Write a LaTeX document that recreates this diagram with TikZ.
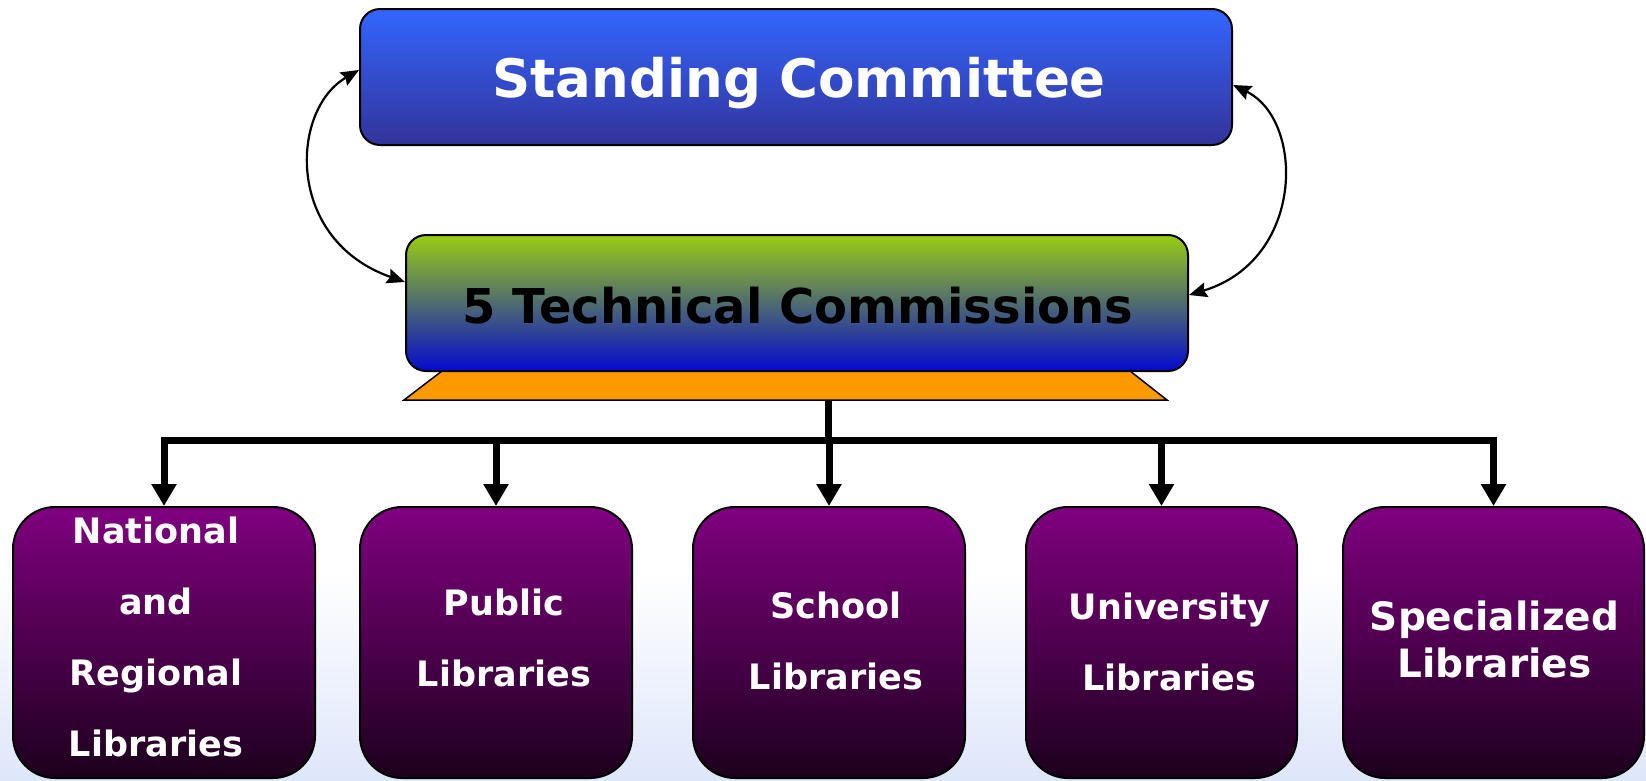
\documentclass[tikz,border=0pt]{standalone}
\usepackage{fontspec}
\setmainfont{DejaVu Sans}
\usetikzlibrary{arrows.meta,calc}
\definecolor{scTop}{RGB}{51,102,255}
\definecolor{scBot}{RGB}{51,51,153}
\definecolor{tcTop}{RGB}{153,204,20}
\definecolor{tcMid}{RGB}{112,150,160}
\definecolor{tcBot}{RGB}{5,10,205}
\definecolor{puTop}{RGB}{128,0,128}
\definecolor{puBot}{RGB}{28,0,28}
\definecolor{orangeFill}{RGB}{255,153,0}
\definecolor{bgBlue}{RGB}{222,230,250}
\begin{document}
\begin{tikzpicture}[x=1pt,y=-1pt,
  scbox/.style={draw=black,line width=2pt,rounded corners=20pt,minimum width=872pt,minimum height=136pt,
    top color=scTop,bottom color=scBot,inner sep=0pt},
  tcbox/.style={draw=black,line width=2pt,rounded corners=20pt,minimum width=782pt,minimum height=136pt,
    top color=tcTop,middle color=tcMid,bottom color=tcBot,inner sep=0pt},
  sctext/.style={inner sep=0pt,text=white,font=\fontsize{53}{60}\selectfont\bfseries},
  tctext/.style={inner sep=0pt,text=black,font=\fontsize{48}{56}\selectfont\bfseries},
  libbox/.style={draw=black,line width=2pt,rounded corners=42pt,minimum height=271pt,
    top color=puTop,bottom color=puBot,inner sep=0pt},
  libtext/.style={inner sep=0pt,text=white,align=center,font=\fontsize{35}{71}\selectfont\bfseries},
  treeline/.style={line width=7pt,black},
  treearrow/.style={line width=7pt,black,-{Triangle[length=22pt,width=24pt]}},
  curvearrow/.style={line width=2.2pt,black,{Stealth[length=18pt,width=15pt,inset=2.5pt]}-{Stealth[length=18pt,width=15pt,inset=2.5pt]}}
]
\useasboundingbox (0,0) rectangle (1646,780);
\fill[white] (0,0) rectangle (1646,780);
\fill[top color=white,bottom color=bgBlue] (0,570) rectangle (1646,780);

% orange base
\draw[fill=orangeFill,line width=1.5pt] (442,371) -- (1130,371) -- (1167,400) -- (404,400) -- cycle;

\node[scbox] (sc) at (796,77) {};
\node[sctext] (sct) at ($(sc.center)+(3,6)$) {Standing Committee};
\node[tcbox] (tc) at (797,303) {};
\node[tctext] (tct) at ($(tc.center)+(1,3)$) {5 Technical Commissions};

\node[libbox,minimum width=302pt] (b1) at (164,642.5) {};
\node[libbox,minimum width=272pt] (b2) at (496,642.5) {};
\node[libbox,minimum width=272pt] (b3) at (829,642.5) {};
\node[libbox,minimum width=271pt] (b4) at (1161.5,642.5) {};
\node[libbox,minimum width=301pt] (b5) at (1493.5,642.5) {};

\node[libtext] (t1) at ($(b1.center)+(-8,-6)$) {National\\and\\Regional\\Libraries};
\node[libtext] (t2) at ($(b2.center)+(8,-5)$) {Public\\Libraries};
\node[libtext] (t3) at ($(b3.center)+(7,-2)$) {School\\Libraries};
\node[libtext] (t4) at ($(b4.center)+(8,-1)$) {University\\Libraries};
\node[libtext,font=\fontsize{39}{47}\selectfont\bfseries] (t5) at ($(b5.center)+(1,-3)$) {Specialized\\Libraries};

% tree connectors
\coordinate (trapbot) at (828,400);
\coordinate (bar) at (828,440);
\draw[treeline] (trapbot) -- (bar);
\draw[treeline,line cap=rect] (b1.north|-bar) -- (b5.north|-bar);
\foreach \b in {b1,b2,b3,b4,b5}{
  \draw[treearrow] (\b.north|-bar) -- (\b.north);
}

% curved two-way arrows
\draw[curvearrow] ($(sc.west)+(0,-7)$) .. controls (290,110) and (285,240) .. ($(tc.west)+(0,-21)$);
\draw[curvearrow] ($(sc.east)+(0,8)$) .. controls (1305,120) and (1305,260) .. ($(tc.east)+(0,-8)$);
\end{tikzpicture}
\end{document}
